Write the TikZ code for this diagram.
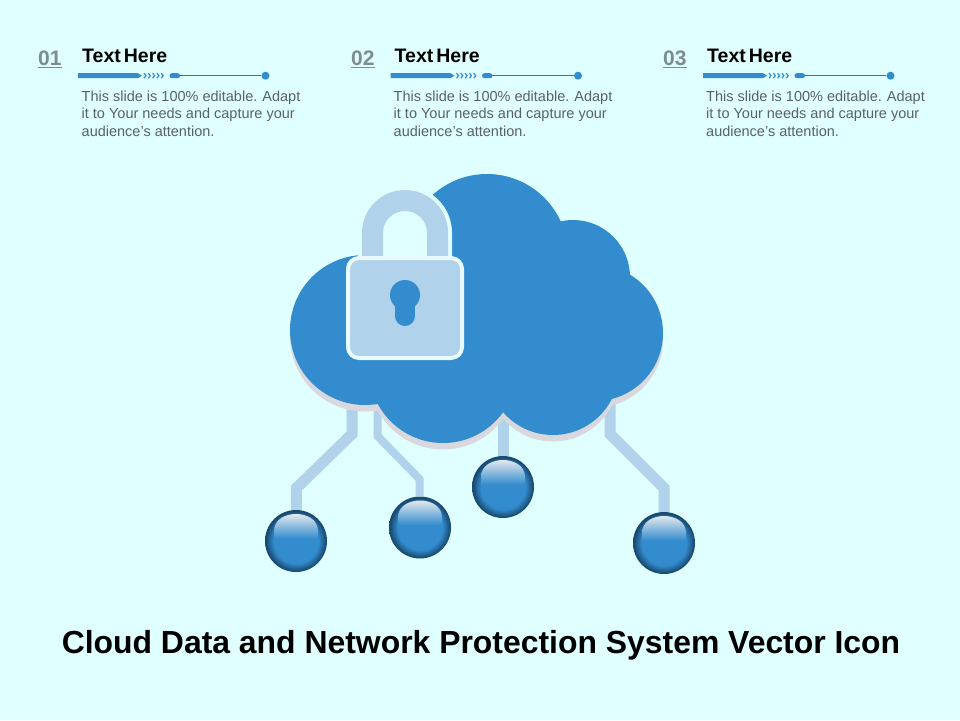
\documentclass[tikz,border=0pt]{standalone}
\usepackage{fontspec}
\setmainfont{Liberation Sans}
\usepackage{tikz}
\usepackage{xcolor}
\definecolor{ColSky}{RGB}{224,255,255}
\definecolor{ColCloud}{RGB}{51,140,206}
\definecolor{ColPale}{RGB}{176,210,234}
\definecolor{ColShade}{RGB}{216,216,222}
\definecolor{ColHalo}{RGB}{234,251,255}
\definecolor{ColDeep}{RGB}{24,72,110}
\definecolor{ColGlow}{RGB}{226,232,238}
\definecolor{ColNum}{RGB}{125,140,140}
\definecolor{ColBody}{RGB}{88,98,102}
\pgfdeclareradialshading{BallShade}{\pgfpoint{0bp}{0bp}}{color(0bp)=(ColCloud);
color(18bp)=(ColCloud); color(24.5bp)=(ColDeep); color(50bp)=(ColDeep)}
\pgfdeclareverticalshading{GlowShade}{100bp}{color(0bp)=(ColCloud); color(34bp)=(ColCloud);
color(75bp)=(ColGlow); color(100bp)=(ColGlow)}
\tikzstyle{NumHead}=[anchor=west,inner sep=0pt,text=ColNum,font=\fontsize{21}{21}\selectfont\bfseries]
\tikzstyle{TitleHead}=[anchor=west,inner sep=0pt,text=black,font=\fontsize{19.5}{20}\selectfont\bfseries]
\tikzstyle{BodyText}=[anchor=north west,inner sep=0pt,align=left,text=ColBody,
font=\fontsize{14.5}{17.7}\selectfont]
\tikzstyle{MainTitle}=[inner sep=0pt,text=black,font=\fontsize{31.9}{32}\selectfont\bfseries]
\tikzstyle{RuleDot}=[circle,fill=ColCloud,inner sep=0pt,minimum size=8]
\tikzstyle{RuleLine}=[ColCloud!85!black,line width=1]
\tikzstyle{LinkWide}=[ColPale,line width=11]
\tikzstyle{LinkThin}=[ColPale,line width=8]
\tikzstyle{LockBody}=[rectangle,draw=ColHalo,fill=ColPale,line width=4,rounded corners=11,
inner sep=0pt,minimum width=114,minimum height=100]
\tikzstyle{Ball}=[circle,inner sep=0pt,minimum size=62,shade,shading=BallShade,
path picture={\begin{scope}[shift={(path picture bounding box.center)}]
\shade[shading=GlowShade](-22,3)--(-22,-10)
.. controls (-22,-22) and (-10,-27) .. (0,-27)
.. controls (10,-27) and (22,-22) .. (22,-10)--(22,3)--cycle;
\end{scope}}]
\newcommand{\CloudPath}{(365,330) circle (75) (487,255) circle (81) (573,277) circle (57)
(595,333) circle (68) (553,369) circle (66) (443,369) circle (74)
(365,330)--(487,255)--(573,277)--(595,333)--(553,369)--(443,369)--cycle}
\newcommand{\ShacklePath}{(372.5,262)--(372.5,233) arc (180:360:32.5)--(437.5,262)}
\newcommand{\RuleBar}[2]{%
\fill[ColCloud](#1,73.2)--(#1+60,73.2)--(#1+64,75.7)--(#1+60,78.2)--(#1,78.2)--cycle;
\foreach \k in {0,1,2,3,4}{\draw[ColCloud,line width=1.2](#1+66+4.3*\k,73.2)--(#1+68+4.3*\k,75.7)--(#1+66+4.3*\k,78.2);}
\fill[ColCloud,rounded corners=2.4](#1+91.5,73.2) rectangle (#1+102,78.2);
\coordinate(#2a)at(#1+101,75.7);
\node[RuleDot](#2b)at(#1+187.5,75.7){};
\draw[RuleLine](#2a)--(#2b);}

\begin{document}
\begin{tikzpicture}[x=1pt,y=-1pt]
        \useasboundingbox[fill=ColSky](0,0)rectangle(960,720);
        \node[NumHead](numA)at(38,59){\underline{01}};
        \node[TitleHead](headA)at(82,55.5){Text\kern3pt Here};
        \RuleBar{78}{ruleA}
        \node[BodyText](textA)at(81.5,90.5){This slide is 100\% editable.\kern1pt\ Adapt\\it to Your needs and capture your\\audience’s attention.};
        \node[NumHead](numB)at(351,59){\underline{02}};
        \node[TitleHead](headB)at(394.5,55.5){Text\kern3pt Here};
        \RuleBar{390.5}{ruleB}
        \node[BodyText](textB)at(393.5,90.5){This slide is 100\% editable.\kern1pt\ Adapt\\it to Your needs and capture your\\audience’s attention.};
        \node[NumHead](numC)at(663,59){\underline{03}};
        \node[TitleHead](headC)at(707,55.5){Text\kern3pt Here};
        \RuleBar{703}{ruleC}
        \node[BodyText](textC)at(706,90.5){This slide is 100\% editable.\kern1pt\ Adapt\\it to Your needs and capture your\\audience’s attention.};
        \node[Ball](ballA)at(296,541){};
        \node[Ball](ballB)at(420,527.5){};
        \node[Ball](ballC)at(503,487){};
        \node[Ball](ballD)at(664,543){};
        \coordinate(tapA)at(352,400);
        \coordinate(kneeA)at(352,434);
        \coordinate(bendA)at(296.5,488);
        \coordinate(tapB)at(377.5,400);
        \coordinate(kneeB)at(377.5,436);
        \coordinate(bendB)at(419.5,479);
        \coordinate(tapC)at(503,410);
        \coordinate(tapD)at(610,395);
        \coordinate(kneeD)at(610,434);
        \coordinate(bendD)at(664,488);
        \draw[LinkWide](tapA)--(kneeA)--(bendA)--(ballA);
        \draw[LinkThin](tapB)--(kneeB)--(bendB)--(ballB);
        \draw[LinkWide](tapC)--(ballC);
        \draw[LinkWide](tapD)--(kneeD)--(bendD)--(ballD);
        \fill[ColShade,shift={(0,6.5)}]\CloudPath;
        \fill[ColCloud]\CloudPath;
        \draw[ColSky,line width=29]\ShacklePath;
        \fill[ColSky]\ShacklePath--cycle;
        \draw[ColPale,line width=21]\ShacklePath;
        \node[LockBody](lock)at(405,308){};
        \fill[ColCloud](405,295) circle (15);
        \draw[ColCloud,line width=20,line cap=round](405,300)--(405,316);
        \node[MainTitle](title)at(481,645){Cloud Data and Network Protection System Vector Icon};
\end{tikzpicture}
\end{document}
